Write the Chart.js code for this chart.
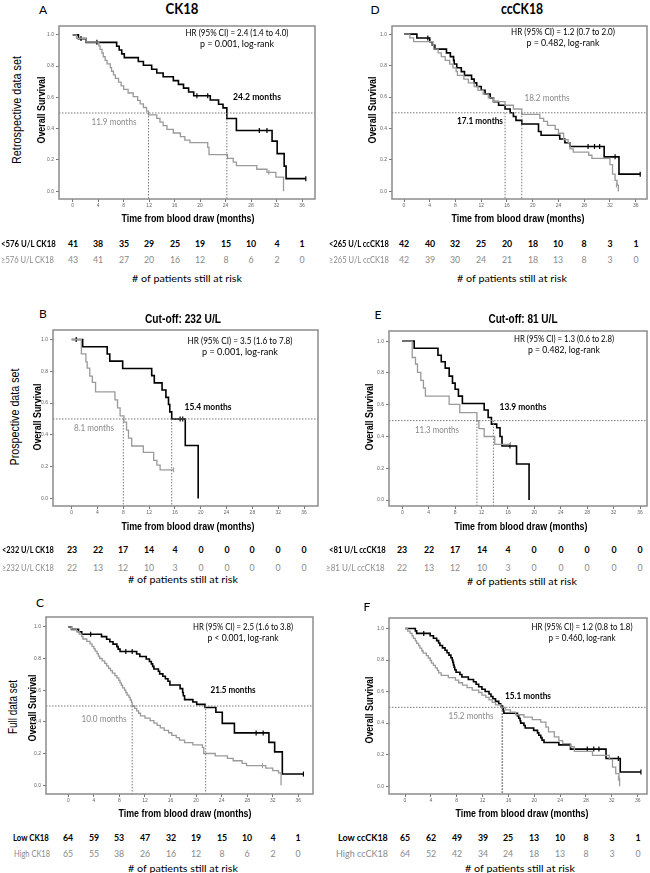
<!DOCTYPE html>
<html><head><meta charset="utf-8">
<script src="https://cdn.jsdelivr.net/npm/chart.js@4.4.0/dist/chart.umd.min.js"></script>
<style>
html,body{margin:0;padding:0;background:#fff;}
body{width:650px;height:873px;position:relative;overflow:hidden;}
canvas{position:absolute;}
.t{position:absolute;white-space:nowrap;line-height:1;}
</style></head><body>
<script>
// ---------- data ----------
const X_TICKS = [0,4,8,12,16,20,24,28,32,36];
const Y_TICKS = [0,0.2,0.4,0.6,0.8,1.0];

// Panel A: retrospective, CK18 (black = <576 U/L, gray = >=576 U/L)
const A_LOW = [[0,1],[0.9,0.976],[2.1,0.952],[6.9,0.927],[7.3,0.903],[7.7,0.878],[8.1,0.854],[10.3,0.829],[11.1,0.805],[12.4,0.78],[13.2,0.756],[14.2,0.732],[15.8,0.707],[16.6,0.683],[17.4,0.659],[18.2,0.634],[19.0,0.61],[21.6,0.583],[22.9,0.556],[23.6,0.533],[24.2,0.465],[25.7,0.388],[31.3,0.32],[32.1,0.24],[33.2,0.16],[33.5,0.08],[36.6,0.08]];
const A_LOW_CENS = [[1.3,0.976],[3.8,0.952],[19.5,0.61],[21.2,0.61],[29.3,0.388],[30.5,0.388],[36.6,0.08]];
const A_HIGH = [[0,1],[0.6,0.977],[2.1,0.953],[4.1,0.93],[4.3,0.907],[4.6,0.884],[4.8,0.86],[5.1,0.837],[5.4,0.814],[5.9,0.79],[6.1,0.767],[6.4,0.744],[6.7,0.721],[7.2,0.698],[7.6,0.674],[8.0,0.651],[8.7,0.628],[9.5,0.605],[10.2,0.581],[10.6,0.558],[11.1,0.535],[11.6,0.512],[11.9,0.488],[13.2,0.465],[13.7,0.442],[14.2,0.419],[14.8,0.395],[15.8,0.372],[16.9,0.349],[17.6,0.326],[18.4,0.31],[21.2,0.28],[21.4,0.233],[24.3,0.21],[25.2,0.186],[25.7,0.163],[28.9,0.14],[30.5,0.12],[31.9,0.09],[33.1,0.0]];
const A_HIGH_CENS = [[30.8,0.12]];
const A_MED = [11.9,24.2];
const A_RISK_LOW = [41,38,35,29,25,19,15,10,4,1];
const A_RISK_HIGH = [43,41,27,20,16,12,8,6,2,0];

// Panel D: retrospective, ccCK18 (black = <265, gray = >=265)
const D_LOW = [[0,1],[2.0,0.976],[4.0,0.952],[4.4,0.929],[4.8,0.905],[6.6,0.881],[7.2,0.857],[7.7,0.833],[7.8,0.81],[8.2,0.786],[8.9,0.762],[9.4,0.738],[10.5,0.714],[10.9,0.69],[11.3,0.667],[12.0,0.643],[12.6,0.619],[13.4,0.595],[13.9,0.571],[14.7,0.548],[15.7,0.524],[16.5,0.5],[17.0,0.476],[17.4,0.452],[18.3,0.429],[20.9,0.381],[21.3,0.357],[24.2,0.333],[25.0,0.31],[25.8,0.286],[31.1,0.22],[33.4,0.11],[36.7,0.11]];
const D_LOW_CENS = [[3.7,0.976],[28.6,0.286],[29.6,0.286],[30.4,0.286],[32.8,0.22],[36.7,0.11]];
const D_HIGH = [[0,1],[0.9,0.976],[1.5,0.952],[4.5,0.929],[4.6,0.905],[5.3,0.881],[5.8,0.857],[6.4,0.833],[7.1,0.81],[7.6,0.786],[8.1,0.762],[8.3,0.738],[9.3,0.714],[10.0,0.69],[10.9,0.667],[11.5,0.643],[12.3,0.619],[13.1,0.595],[13.9,0.571],[15.7,0.548],[17.0,0.524],[18.3,0.49],[21.1,0.465],[21.7,0.445],[22.3,0.42],[23.5,0.395],[24.0,0.37],[24.8,0.33],[25.5,0.31],[25.8,0.27],[26.3,0.25],[28.7,0.23],[29.2,0.21],[32.0,0.17],[32.4,0.11],[32.8,0.07],[33.1,0.04],[33.3,0.0]];
const D_HIGH_CENS = [[33.0,0.04]];
const D_MED = [15.7,18.3];
const D_RISK_LOW = [42,40,32,25,20,18,10,8,3,1];
const D_RISK_HIGH = [42,39,30,24,21,18,13,8,3,0];

// Panel B: prospective, CK18 cut-off 232 U/L
const B_LOW = [[0,1],[1.7,0.955],[5.5,0.909],[5.9,0.864],[7.9,0.818],[12.4,0.773],[12.8,0.727],[14.0,0.682],[14.6,0.636],[15.0,0.591],[15.2,0.545],[15.5,0.5],[17.6,0.333],[19.6,0.0]];
const B_LOW_CENS = [[0.7,1.0],[16.8,0.5],[17.2,0.5]];
const B_HIGH = [[0,1],[1.5,0.91],[2.2,0.86],[2.4,0.82],[2.8,0.77],[3.2,0.73],[3.7,0.67],[6.7,0.62],[7.1,0.57],[7.5,0.52],[8.1,0.48],[8.5,0.43],[8.8,0.38],[9.3,0.33],[11.1,0.29],[12.7,0.24],[13.2,0.21],[13.7,0.18],[15.8,0.18]];
const B_HIGH_CENS = [[15.8,0.18]];
const B_MED = [8.0,15.5];
const B_RISK_LOW = [23,22,17,14,4,0,0,0,0,0];
const B_RISK_HIGH = [22,13,12,10,3,0,0,0,0,0];

// Panel E: prospective, ccCK18 cut-off 81 U/L
const E_LOW = [[0,1],[1.8,0.955],[5.4,0.911],[5.9,0.87],[6.5,0.83],[7.1,0.78],[7.6,0.736],[8.0,0.697],[8.5,0.654],[9.1,0.608],[12.4,0.567],[13.0,0.52],[13.5,0.478],[14.3,0.455],[14.8,0.40],[15.1,0.34],[17.3,0.227],[19.2,0.0]];
const E_LOW_CENS = [[16.3,0.34]];
const E_HIGH = [[0,1],[1.5,0.897],[2.0,0.856],[2.3,0.804],[2.8,0.753],[3.2,0.705],[3.5,0.654],[7.1,0.602],[8.7,0.55],[11.3,0.5],[11.6,0.45],[12.4,0.40],[14.0,0.35],[16.4,0.35]];
const E_HIGH_CENS = [[16.4,0.35]];
const E_MED = [11.3,13.8];
const E_RISK_LOW = [23,22,17,14,4,0,0,0,0,0];
const E_RISK_HIGH = [22,13,12,10,3,0,0,0,0,0];

// Panel C: full data set, CK18
const C_LOW = [[0,1],[0.5,0.984],[1.6,0.969],[2.1,0.953],[5.2,0.938],[6.0,0.922],[6.5,0.906],[7.0,0.891],[7.6,0.875],[7.8,0.859],[8.1,0.844],[10.7,0.828],[11.2,0.813],[12.2,0.797],[12.7,0.781],[13.0,0.766],[13.2,0.75],[13.4,0.734],[14.1,0.719],[14.3,0.703],[14.8,0.688],[15.2,0.672],[15.6,0.656],[15.9,0.633],[17.5,0.61],[17.9,0.585],[18.0,0.565],[18.2,0.54],[19.5,0.525],[20.1,0.51],[21.4,0.49],[23.1,0.46],[24.1,0.39],[26.0,0.33],[31.4,0.27],[32.3,0.21],[33.5,0.07],[36.8,0.07]];
const C_LOW_CENS = [[3.5,0.953],[9.0,0.844],[10.0,0.844],[29.4,0.33],[30.5,0.33],[36.8,0.07]];
const C_HIGH = [[0,1],[0.5,0.985],[1.3,0.969],[1.7,0.954],[2.1,0.938],[2.3,0.923],[2.9,0.908],[3.4,0.892],[3.7,0.877],[4.0,0.862],[4.2,0.846],[4.5,0.831],[4.7,0.815],[4.9,0.8],[5.3,0.785],[5.7,0.769],[6.0,0.754],[6.3,0.738],[6.6,0.723],[6.9,0.708],[7.3,0.692],[7.6,0.677],[7.9,0.662],[8.1,0.646],[8.3,0.631],[8.5,0.615],[8.8,0.6],[9.0,0.585],[9.2,0.569],[9.5,0.554],[9.7,0.538],[9.9,0.523],[10.0,0.5],[10.4,0.485],[10.7,0.469],[11.0,0.454],[11.3,0.438],[12.0,0.423],[12.8,0.408],[13.4,0.392],[13.9,0.377],[14.4,0.362],[15.0,0.346],[15.7,0.331],[16.2,0.315],[16.9,0.3],[17.4,0.285],[18.2,0.269],[19.5,0.254],[21.0,0.238],[21.2,0.2],[23.0,0.185],[24.9,0.169],[25.8,0.154],[27.2,0.138],[27.9,0.123],[30.9,0.108],[32.0,0.092],[32.9,0.077],[33.3,0.0]];
const C_HIGH_CENS = [[30.4,0.123]];
const C_MED = [10.0,21.5];
const C_RISK_LOW = [64,59,53,47,32,19,15,10,4,1];
const C_RISK_HIGH = [65,55,38,26,16,12,8,6,2,0];

// Panel F: full data set, ccCK18
const F_LOW = [[0,1],[1.6,0.985],[1.8,0.969],[3.9,0.954],[4.4,0.938],[4.9,0.923],[5.2,0.908],[5.4,0.892],[5.8,0.877],[6.2,0.862],[6.5,0.846],[6.8,0.831],[7.1,0.815],[7.3,0.8],[7.4,0.785],[7.5,0.769],[7.6,0.754],[7.7,0.738],[7.9,0.723],[8.5,0.708],[8.8,0.692],[9.8,0.677],[10.6,0.662],[11.0,0.646],[11.4,0.631],[11.9,0.615],[12.4,0.6],[13.0,0.585],[13.3,0.569],[13.6,0.554],[14.0,0.538],[14.5,0.523],[14.8,0.508],[15.1,0.492],[15.2,0.477],[15.3,0.462],[17.4,0.446],[17.6,0.431],[17.8,0.415],[17.9,0.4],[18.4,0.385],[18.6,0.369],[19.9,0.354],[20.5,0.338],[20.7,0.323],[21.0,0.308],[21.2,0.292],[21.5,0.277],[23.8,0.262],[25.6,0.235],[31.1,0.175],[33.3,0.09],[36.5,0.09]];
const F_LOW_CENS = [[2.9,0.969],[28.2,0.235],[29.2,0.235],[30.0,0.235],[33.0,0.175],[36.5,0.09]];
const F_HIGH = [[0,1],[0.4,0.984],[0.8,0.969],[1.1,0.953],[1.3,0.938],[1.6,0.922],[1.8,0.906],[2.1,0.891],[2.3,0.875],[2.6,0.859],[2.8,0.844],[3.3,0.828],[3.6,0.813],[3.9,0.797],[4.1,0.781],[4.4,0.766],[4.7,0.75],[5.0,0.734],[5.2,0.719],[5.6,0.703],[6.7,0.688],[7.8,0.672],[8.3,0.656],[8.9,0.641],[9.6,0.625],[10.4,0.609],[11.4,0.594],[11.9,0.578],[12.5,0.563],[13.0,0.547],[13.5,0.531],[14.0,0.516],[14.8,0.5],[15.5,0.484],[16.3,0.469],[17.1,0.453],[18.4,0.438],[19.7,0.422],[21.0,0.406],[21.8,0.375],[22.2,0.344],[23.1,0.313],[23.8,0.289],[24.4,0.27],[25.6,0.25],[26.2,0.22],[29.0,0.195],[31.6,0.17],[32.1,0.12],[32.6,0.08],[33.1,0.05],[33.2,0.0]];
const F_HIGH_CENS = [[33.0,0.05]];
const F_MED = [15.0,15.1];
const F_RISK_LOW = [65,62,49,39,25,13,10,8,3,1];
const F_RISK_HIGH = [64,52,42,34,24,18,13,8,3,0];

// ---------- text helpers ----------
const CAL = "Lato, 'Open Sans', sans-serif";
const ARI = "'Liberation Sans', Arial, sans-serif";
const mctx = document.createElement('canvas').getContext('2d');
function put(text, x, y, o) {
  const d = document.createElement('div');
  d.className = 't';
  d.textContent = text;
  const font = (o.bold ? 'bold ' : '') + o.size + 'px ' + o.family;
  d.style.font = font;
  d.style.lineHeight = '1';
  d.style.color = o.color || '#000';
  mctx.font = font;
  const mw = mctx.measureText(text).width;
  const sx = o.w ? o.w / mw : (o.sx || 1);
  d.style.left = x + 'px';
  d.style.top = y + 'px';
  if (o.align === 'l') {
    d.style.transformOrigin = 'left center';
    d.style.transform = 'translate(0,-50%) scaleX(' + sx + ')';
  } else {
    d.style.transformOrigin = 'center center';
    d.style.transform = 'translate(-50%,-50%) ' + (o.rot ? 'rotate(-90deg) ' : '') + 'scaleX(' + sx + ')';
  }
  document.body.appendChild(d);
}

// ---------- chart panels ----------
const BLACK = '#000000', GRAY = '#9a9a9a', GRAYTXT = '#8a8a8a';
const framePlugin = {
  id: 'frame',
  afterDraw(c) {
    const a = c.chartArea, g = c.ctx;
    g.save();
    g.strokeStyle = '#8c8c8c';
    g.lineWidth = 1.5;
    g.strokeRect(a.left, a.top, a.right - a.left, a.bottom - a.top);
    g.restore();
  }
};
const pts = arr => arr.map(p => ({x: p[0], y: p[1]}));

function panel(p) {
  const f = p.frame, YW = 22, XH = 14, PAD = 2;
  const w = f.R - f.L + YW + PAD, h = f.B - f.T + XH + PAD;
  const cv = document.createElement('canvas');
  cv.width = w; cv.height = h;
  cv.style.width = w + 'px'; cv.style.height = h + 'px';
  cv.style.left = (f.L - YW) + 'px'; cv.style.top = (f.T - PAD) + 'px';
  document.body.appendChild(cv);
  const ppm = (f.x36 - f.x0) / 36, ppu = f.y0 - f.y1;
  const xmin = -(f.x0 - f.L) / ppm, xmax = 36 + (f.R - f.x36) / ppm;
  const ymax = 1 + (f.y1 - f.T) / ppu, ymin = -(f.B - f.y0) / ppu;
  const dot = {type: 'line', borderColor: '#7a7a7a', borderWidth: 1, borderDash: [1.5, 1.5], pointRadius: 0, fill: false};
  const ds = [];
  ds.push(Object.assign({data: [{x: xmin, y: 0.5}, {x: xmax, y: 0.5}]}, dot));
  p.med.forEach(m => ds.push(Object.assign({data: [{x: m, y: 0.5}, {x: m, y: ymin}]}, dot)));
  ds.push({type: 'line', data: pts(p.high), stepped: 'before', borderColor: GRAY, borderWidth: 1.3, pointRadius: 0, fill: false});
  ds.push({type: 'line', data: pts(p.low), stepped: 'before', borderColor: BLACK, borderWidth: 1.6, pointRadius: 0, fill: false});
  ds.push({type: 'line', showLine: false, data: pts(p.highC), borderColor: GRAY, pointBorderColor: GRAY, pointStyle: 'line', rotation: 90, pointRadius: 2.5, pointBorderWidth: 1});
  ds.push({type: 'line', showLine: false, data: pts(p.lowC), borderColor: BLACK, pointBorderColor: BLACK, pointStyle: 'line', rotation: 90, pointRadius: 2.5, pointBorderWidth: 1.2});
  const tickFont = {family: ARI, size: 5};
  const chart = new Chart(cv.getContext('2d'), {
    type: 'line',
    data: {datasets: ds},
    options: {
      animation: false, responsive: false, events: [],
      layout: {padding: {top: PAD, right: PAD, left: 0, bottom: 0}, autoPadding: false},
      plugins: {legend: {display: false}, tooltip: {enabled: false}},
      scales: {
        x: {
          type: 'linear', min: xmin, max: xmax,
          afterBuildTicks: s => { s.ticks = X_TICKS.map(v => ({value: v})); },
          afterFit: s => { s.height = XH; },
          grid: {drawOnChartArea: false, drawTicks: true, tickLength: 3, color: '#777'},
          border: {display: false},
          ticks: {font: tickFont, color: '#666', padding: 1, maxRotation: 0, autoSkip: false, callback: v => String(v)}
        },
        y: {
          type: 'linear', min: ymin, max: ymax,
          afterBuildTicks: s => { s.ticks = Y_TICKS.map(v => ({value: v})); },
          afterFit: s => { s.width = YW; },
          grid: {drawOnChartArea: false, drawTicks: true, tickLength: 3, color: '#777'},
          border: {display: false},
          ticks: {font: tickFont, color: '#666', padding: 2, autoSkip: false, callback: v => Number(v).toFixed(1)}
        }
      }
    },
    plugins: [framePlugin]
  });
  // risk table aligned to the library's x scale
  const xs = chart.scales.x, left = f.L - YW;
  X_TICKS.forEach((t, i) => {
    const px = left + xs.getPixelForValue(t);
    put(String(p.r1[i]), px, p.ry[0], {family: CAL, size: 10, bold: true, sx: 0.88, color: '#000'});
    put(String(p.r2[i]), px, p.ry[1], {family: CAL, size: 10, sx: 0.88, color: GRAYTXT});
  });
  return chart;
}

const PANELS = [
  {frame: {L: 59, T: 23, R: 315, B: 199, x0: 72.7, x36: 302, y1: 32, y0: 191}, low: A_LOW, high: A_HIGH, lowC: A_LOW_CENS, highC: A_HIGH_CENS, med: A_MED, r1: A_RISK_LOW, r2: A_RISK_HIGH, ry: [243.3, 258.5]},
  {frame: {L: 392, T: 23, R: 647, B: 199, x0: 404, x36: 635.7, y1: 31.3, y0: 191.3}, low: D_LOW, high: D_HIGH, lowC: D_LOW_CENS, highC: D_HIGH_CENS, med: D_MED, r1: D_RISK_LOW, r2: D_RISK_HIGH, ry: [243.3, 258.5]},
  {frame: {L: 53, T: 327, R: 318, B: 506, x0: 71.7, x36: 304, y1: 336.7, y0: 498.3}, low: B_LOW, high: B_HIGH, lowC: B_LOW_CENS, highC: B_HIGH_CENS, med: B_MED, r1: B_RISK_LOW, r2: B_RISK_HIGH, ry: [549.3, 566.7]},
  {frame: {L: 389, T: 328, R: 647, B: 506, x0: 402.3, x36: 640, y1: 338.3, y0: 500}, low: E_LOW, high: E_HIGH, lowC: E_LOW_CENS, highC: E_HIGH_CENS, med: E_MED, r1: E_RISK_LOW, r2: E_RISK_HIGH, ry: [549.3, 566.7]},
  {frame: {L: 46, T: 614, R: 313, B: 794, x0: 68.3, x36: 298.3, y1: 624, y0: 785}, low: C_LOW, high: C_HIGH, lowC: C_LOW_CENS, highC: C_HIGH_CENS, med: C_MED, r1: C_RISK_LOW, r2: C_RISK_HIGH, ry: [836.7, 852.7]},
  {frame: {L: 389, T: 615, R: 647, B: 794, x0: 405, x36: 637.7, y1: 625.7, y0: 786}, low: F_LOW, high: F_HIGH, lowC: F_LOW_CENS, highC: F_HIGH_CENS, med: F_MED, r1: F_RISK_LOW, r2: F_RISK_HIGH, ry: [836.7, 852.7]}
];
PANELS.forEach(panel);

// ---------- text ----------
put('CK18', 182, 8, {family: CAL, size: 15, bold: true, w: 33});
put('ccCK18', 522, 8, {family: CAL, size: 15, bold: true, w: 42});
[['A', 43, 10], ['D', 375, 10], ['B', 43, 313.5], ['E', 378, 315], ['C', 40, 603], ['F', 367, 607]]
  .forEach(a => put(a[0], a[1], a[2], {family: CAL, size: 12}));
put('Cut-off: 232 U/L', 183, 319, {family: ARI, size: 12, bold: true, w: 76});
put('Cut-off: 81 U/L', 523, 319, {family: ARI, size: 12, bold: true, w: 69});

put('Retrospective data set', 17, 110, {family: ARI, size: 12, rot: true, w: 108});
put('Prospective data set', 15, 417, {family: ARI, size: 12, rot: true, w: 97});
put('Full data set', 13, 707, {family: ARI, size: 12, rot: true, w: 54});

[[42, 110], [373, 110], [38, 417], [370, 417], [33, 708], [370, 710]]
  .forEach(a => put('Overall Survival', a[0], a[1], {family: ARI, size: 10, bold: true, rot: true, w: 67}));
[[188, 217.7], [518, 218], [188, 526], [521, 526], [185, 812.7], [522, 812.7]]
  .forEach(a => put('Time from blood draw (months)', a[0], a[1], {family: ARI, size: 11, bold: true, w: 133}));
[[187, 278.3], [512, 278.3], [183, 579.3], [522, 580.5], [183, 868], [520, 868]]
  .forEach(a => put('# of patients still at risk', a[0], a[1], {family: CAL, size: 10, w: 110}));

// hazard ratio annotations
put('HR (95% CI) = 2.4 (1.4 to 4.0)', 237, 32.3, {family: CAL, size: 9, w: 103});
put('p = 0.001, log-rank', 237, 42.7, {family: CAL, size: 9, w: 74});
put('HR (95% CI) =  1.2 (0.7 to 2.0)', 563, 31, {family: CAL, size: 9, w: 106});
put('p = 0.482, log-rank', 563, 41.7, {family: CAL, size: 9, w: 73});
put('HR (95% CI) = 3.5 (1.6 to 7.8)', 240, 340, {family: CAL, size: 9, w: 105});
put('p = 0.001, log-rank', 240, 350.5, {family: CAL, size: 9, w: 76});
put('HR (95% CI) =  1.3 (0.6 to 2.8)', 564, 338.3, {family: CAL, size: 9, w: 102});
put('p = 0.482, log-rank', 564, 349, {family: CAL, size: 9, w: 72});
put('HR (95% CI) = 2.5 (1.6 to 3.8)', 243, 626, {family: CAL, size: 9, w: 100});
put('p < 0.001, log-rank', 243, 636.5, {family: CAL, size: 9, w: 71});
put('HR (95% CI) =  1.2 (0.8 to 1.8)', 582, 626, {family: CAL, size: 9, w: 103});
put('p = 0.460, log-rank', 582, 636.5, {family: CAL, size: 9, w: 67});

// median labels
put('24.2 months', 257, 96, {family: CAL, size: 10, bold: true, w: 48});
put('11.9 months', 114, 121, {family: CAL, size: 10, w: 45, color: GRAYTXT});
put('18.2 months', 547, 97.3, {family: CAL, size: 10, w: 45, color: GRAYTXT});
put('17.1 months', 480, 120, {family: CAL, size: 10, bold: true, w: 46});
put('15.4 months', 208, 406, {family: CAL, size: 10, bold: true, w: 47});
put('8.1 months', 94, 427, {family: CAL, size: 10, w: 40, color: GRAYTXT});
put('13.9 months', 523, 406, {family: CAL, size: 10, bold: true, w: 47});
put('11.3 months', 437, 429, {family: CAL, size: 10, w: 44, color: GRAYTXT});
put('21.5 months', 233, 689, {family: CAL, size: 10, bold: true, w: 45});
put('10.0 months', 104, 718, {family: CAL, size: 10, w: 45, color: GRAYTXT});
put('15.1 months', 528, 695, {family: CAL, size: 10, bold: true, w: 46});
put('15.2 months', 471, 715, {family: CAL, size: 10, w: 45, color: GRAYTXT});

// risk table row labels
put('<576 U/L CK18', 1, 243.3, {family: CAL, size: 10, bold: true, w: 55, align: 'l'});
put('\u2265576 U/L CK18', 1, 258.5, {family: CAL, size: 10, w: 53, align: 'l', color: GRAYTXT});
put('<265 U/L ccCK18', 329, 243.3, {family: CAL, size: 10, bold: true, w: 60, align: 'l'});
put('\u2265265 U/L ccCK18', 329, 258.5, {family: CAL, size: 10, w: 60, align: 'l', color: GRAYTXT});
put('<232 U/L CK18', 2, 549.3, {family: CAL, size: 10, bold: true, w: 52, align: 'l'});
put('\u2265232 U/L CK18', 2, 566.7, {family: CAL, size: 10, w: 52, align: 'l', color: GRAYTXT});
put('<81 U/L ccCK18', 329, 549.3, {family: CAL, size: 10, bold: true, w: 57, align: 'l'});
put('\u226581 U/L ccCK18', 326, 566.7, {family: CAL, size: 10, w: 59, align: 'l', color: GRAYTXT});
put('Low CK18', 13, 836.7, {family: CAL, size: 10, bold: true, w: 36, align: 'l'});
put('High CK18', 14, 852.7, {family: CAL, size: 10, w: 36, align: 'l', color: GRAYTXT});
put('Low ccCK18', 338, 836.7, {family: CAL, size: 10, bold: true, w: 50, align: 'l'});
put('High ccCK18', 336, 852.7, {family: CAL, size: 10, w: 52, align: 'l', color: GRAYTXT});
</script>
</body></html>
